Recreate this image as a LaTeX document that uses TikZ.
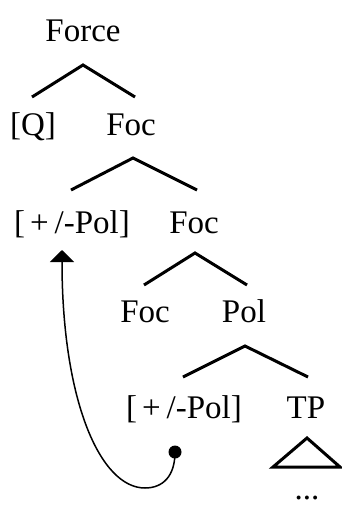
\documentclass[tikz,border=0pt]{standalone}
\usepackage{fontspec}
\setmainfont{Liberation Serif}
\usetikzlibrary{arrows.meta}
\begin{document}
\begin{tikzpicture}[x=1pt,y=-1pt,
  lab/.style={anchor=base,inner sep=0pt,font=\fontsize{33}{38}\selectfont},
  branch/.style={line width=3pt,line join=miter},
  move/.style={line width=1.5pt,-{Triangle[width=24pt,length=12pt]}}]
\useasboundingbox (0,0) rectangle (342,506);
% labels
\node[lab] (force) at (83,41) {Force};
\node[lab] (q) at (33,135) {[Q]};
\node[lab] (foc1) at (131,135) {Foc};
\node[lab] (pol1) at (72,233) {[\hspace{5pt}+\hspace{6pt}/-Pol]};
\node[lab] (foc2) at (194,233) {Foc};
\node[lab] (foc3) at (145,322) {Foc};
\node[lab] (pol) at (244,322) {Pol};
\node[lab] (pol2) at (184,418) {[\hspace{5pt}+\hspace{6pt}/-Pol]};
\node[lab] (tp) at (306,418) {TP};
\node[lab] (dots) at (307,499) {...};
% branches
\coordinate (a1) at (83,65); \coordinate (l1) at (32,97); \coordinate (r1) at (135,97);
\coordinate (a2) at (133,158); \coordinate (l2) at (71,190); \coordinate (r2) at (197,190);
\coordinate (a3) at (195,253); \coordinate (l3) at (144,285); \coordinate (r3) at (247,285);
\coordinate (a4) at (245,346); \coordinate (l4) at (183,377); \coordinate (r4) at (308,377);
\draw[branch] (l1) -- (a1) -- (r1);
\draw[branch] (l2) -- (a2) -- (r2);
\draw[branch] (l3) -- (a3) -- (r3);
\draw[branch] (l4) -- (a4) -- (r4);
% triangle
\coordinate (ta) at (307,438); \coordinate (tl) at (273,467); \coordinate (tr) at (340,467);
\draw[branch] (ta) -- (tl) -- (tr) -- cycle;
% movement
\node[circle,fill=black,inner sep=0pt,minimum size=13pt] (dot) at (175,452) {};
\coordinate (tip) at (62,250);
\draw[move] (dot.center) .. controls (175,476) and (163,488) .. (145,488)
  .. controls (100,488) and (62,400) .. (tip);
\end{tikzpicture}
\end{document}
